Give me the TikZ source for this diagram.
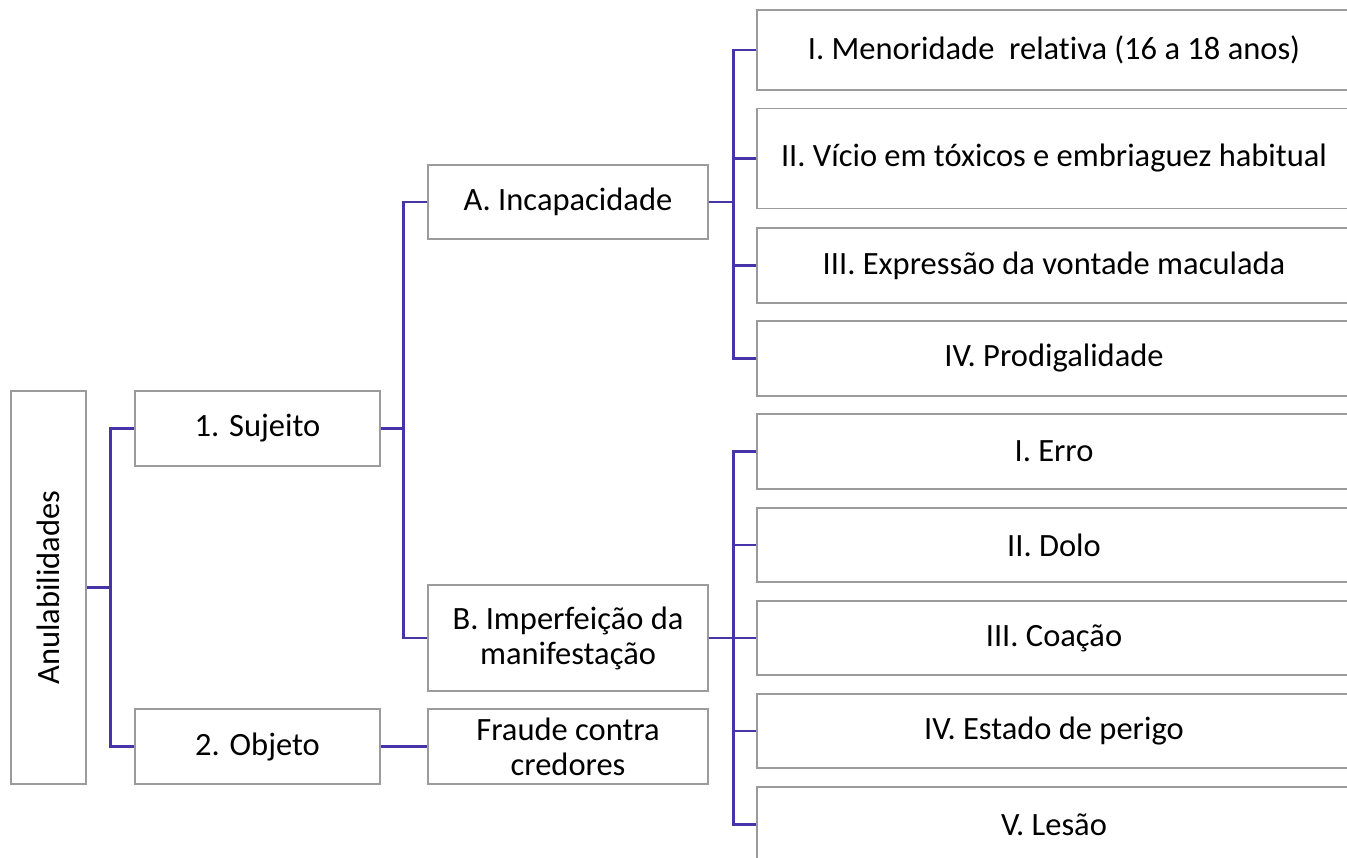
\documentclass[tikz,border=0pt]{standalone}
\usepackage{fontspec}
\setmainfont[Ligatures=NoCommon]{Carlito}
\definecolor{lnk}{RGB}{70,52,168}
\definecolor{bx}{RGB}{155,155,155}
\begin{document}
\begin{tikzpicture}[x=1pt,y=-1pt,
  box/.style={draw=bx, line width=1.4pt, inner sep=0pt, align=center,
    font=\fontsize{32.5}{35}\selectfont},
  lbl/.style={inner sep=0pt, font=\fontsize{32.5}{35}\selectfont},
  link/.style={draw=lnk, line width=2.9pt}]
\clip (0,0) rectangle (1347,858);
\fill[white] (0,0) rectangle (1347,858);
% level 0
\node[box, minimum width=75pt, minimum height=393pt] (anul) at (48.5,587.5) {};
\node[lbl, rotate=90] (anullabel) at (anul) {Anulabilidades};
% level 1
\node[box, minimum width=245pt, minimum height=75pt] (suj) at (257.5,428.5) {1. Sujeito};
\node[box, minimum width=245pt, minimum height=75pt] (obj) at (257.5,746.5) {2. Objeto};
% level 2
\node[box, minimum width=280pt, minimum height=74pt] (inc) at (568,202) {A. Incapacidade};
\node[box, minimum width=280pt, minimum height=106pt] (imp) at (568,638) {B. Imperfeição da\\manifestação};
\node[box, minimum width=280pt, minimum height=75pt] (fra) at (568,746.5) {Fraude contra\\credores};
% level 3
\node[box, minimum width=594pt, minimum height=80pt] (r1) at (1054,50) {I. Menoridade\ \ relativa (16 a 18 anos)};
\node[box, minimum width=594pt, minimum height=100pt] (r2) at (1054,158.5) {II. Vício em tóxicos e embriaguez habitual};
\node[box, minimum width=594pt, minimum height=75pt] (r3) at (1054,265.5) {III. Expressão da vontade maculada};
\node[box, minimum width=594pt, minimum height=75pt] (r4) at (1054,358.5) {IV. Prodigalidade};
\node[box, minimum width=594pt, minimum height=75pt] (s1) at (1054,451.5) {I. Erro};
\node[box, minimum width=594pt, minimum height=74pt] (s2) at (1054,545) {II. Dolo};
\node[box, minimum width=594pt, minimum height=74pt] (s3) at (1054,638) {III. Coação};
\node[box, minimum width=594pt, minimum height=74pt] (s4) at (1054,731) {IV. Estado de perigo};
\node[box, minimum width=594pt, minimum height=75pt] (s5) at (1054,824.5) {V. Lesão};
% connectors
\draw[link] (anul.east) -- ++(24,0) |- (suj.west);
\draw[link] (anul.east) -- ++(24,0) |- (obj.west);
\draw[link] (suj.east) -- ++(23,0) |- (inc.west);
\draw[link] (suj.east) -- ++(23,0) |- (imp.west);
\draw[link] (obj.east) -- (fra.west);
\foreach \r in {r1,r2,r3,r4}{\draw[link] (inc.east) -- ++(25,0) |- (\r.west);}
\foreach \s in {s1,s2,s3,s4,s5}{\draw[link] (imp.east) -- ++(25,0) |- (\s.west);}
\end{tikzpicture}
\end{document}
